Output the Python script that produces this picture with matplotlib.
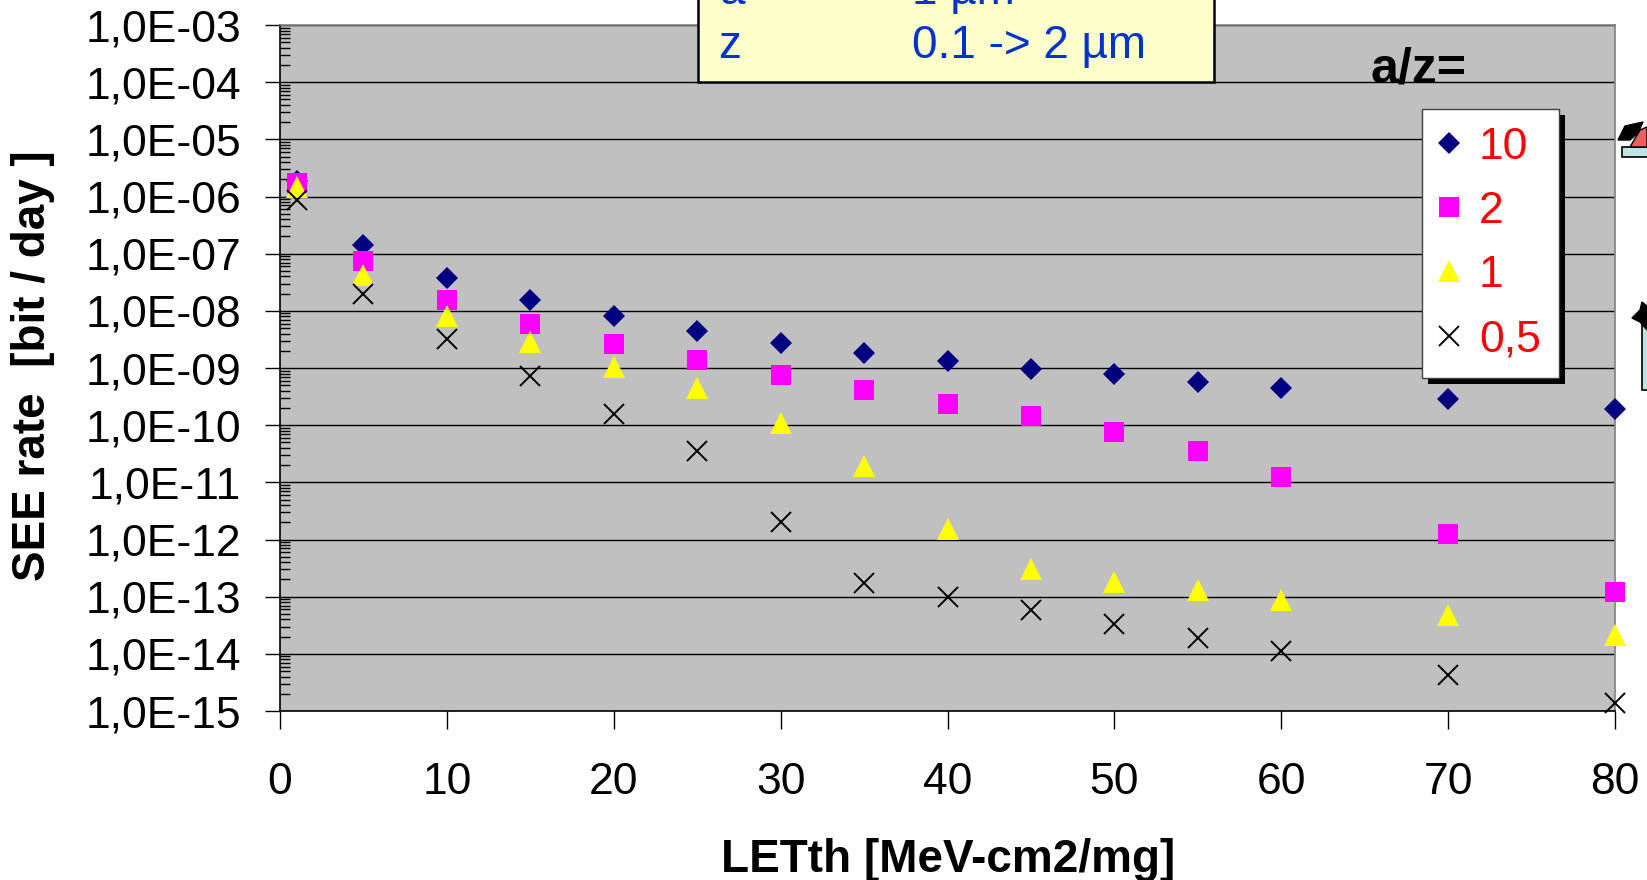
import math
import matplotlib
matplotlib.use("Agg")
import matplotlib.pyplot as plt
from matplotlib.patches import Rectangle, Polygon
from matplotlib.ticker import FixedLocator, FuncFormatter, LogLocator, NullFormatter

plt.rcParams['font.family'] = ['Liberation Sans', 'DejaVu Sans']

# ---------------- data ----------------
let_th = [1, 5, 10, 15, 20, 25, 30, 35, 40, 45, 50, 55, 60, 70, 80]
rate_az10 = [1.9e-6, 1.43e-7, 3.7e-8, 1.52e-8, 8.0e-9, 4.5e-9, 2.7e-9, 1.85e-9,
             1.35e-9, 9.7e-10, 7.9e-10, 5.6e-10, 4.4e-10, 2.9e-10, 1.95e-10]
rate_az2 = [1.7e-6, 7.3e-8, 1.52e-8, 5.8e-9, 2.6e-9, 1.36e-9, 7.6e-10, 4.2e-10,
            2.3e-10, 1.45e-10, 7.7e-11, 3.6e-11, 1.25e-11, 1.27e-12, 1.2e-13]
rate_az1 = [1.45e-6, 4.2e-8, 8.0e-9, 2.8e-9, 1.05e-9, 4.4e-10, 1.1e-10, 1.9e-11,
            1.55e-12, 3.0e-13, 1.8e-13, 1.3e-13, 8.8e-14, 4.7e-14, 2.1e-14]
rate_az05 = [8.8e-7, 1.95e-8, 3.2e-9, 7.2e-10, 1.55e-10, 3.6e-11, 2.0e-12, 1.75e-13,
             1.0e-13, 5.8e-14, 3.3e-14, 1.9e-14, 1.1e-14, 4.2e-15, 1.4e-15]
series_labels = ["10", "2", "1", "0,5"]
x_ticks = [0, 10, 20, 30, 40, 50, 60, 70, 80]
y_exponents = list(range(-15, -2))

W, H = 1647, 880
fig = plt.figure(figsize=(W / 100, H / 100), dpi=100)
fig.patch.set_facecolor('white')

def fx(px):
    return px / W

def fy(py):
    return 1 - py / H

ax = fig.add_axes([fx(280), fy(711), fx(1615) - fx(280), fy(25) - fy(711)])
ax.set_facecolor('#C0C0C0')
ax.set_yscale('log')
ax.set_xlim(0, 80)
ax.set_ylim(1e-15, 1e-3)

ax.yaxis.set_major_locator(FixedLocator([10.0 ** e for e in y_exponents]))
ax.yaxis.set_major_formatter(FuncFormatter(lambda v, p: "1,0E-%02d" % round(-math.log10(v))))
ax.yaxis.set_minor_locator(LogLocator(base=10, subs=range(2, 10), numticks=100))
ax.yaxis.set_minor_formatter(NullFormatter())
ax.xaxis.set_major_locator(FixedLocator(x_ticks))
ax.grid(axis='y', which='major', color='black', linewidth=1.0, zorder=0)
ax.set_axisbelow(True)

ax.tick_params(axis='y', which='major', direction='out', length=11, width=1.0,
               labelsize=32, pad=17)
ax.tick_params(axis='y', which='minor', direction='in', length=7, width=1.0)
ax.tick_params(axis='x', which='major', direction='out', length=13, width=1.0,
               labelsize=32, pad=24)
for s in ['left', 'bottom']:
    ax.spines[s].set_color('black')
    ax.spines[s].set_linewidth(1.2)
for s in ['right', 'top']:
    ax.spines[s].set_color('#808080')
    ax.spines[s].set_linewidth(1.2)

ms = 14.8
h1, = ax.plot(let_th, rate_az10, linestyle='none', marker='D', markersize=11.2,
              color='#000080', markeredgewidth=0, clip_on=False, zorder=5)
h2, = ax.plot(let_th, rate_az2, linestyle='none', marker='s', markersize=ms,
              color='#FF00FF', markeredgewidth=0, clip_on=False, zorder=5)
h3, = ax.plot(let_th, rate_az1, linestyle='none', marker='^', markersize=15.5,
              color='#FFFF00', markeredgewidth=0, clip_on=False, zorder=5)
h4, = ax.plot(let_th, rate_az05, linestyle='none', marker='x', markersize=ms,
              color='black', markeredgewidth=1.4, clip_on=False, zorder=5)

# legend
leg = ax.legend([h1, h2, h3, h4], series_labels, loc='upper left',
                bbox_to_anchor=(fx(1422), fy(109)), bbox_transform=fig.transFigure,
                borderaxespad=0, fontsize=32, numpoints=1, frameon=True,
                fancybox=False, borderpad=0.4, labelspacing=0.52,
                handlelength=0.4, handletextpad=0.48)
leg.get_frame().set_edgecolor('#404040')
leg.get_frame().set_linewidth(1.0)
leg.get_frame().set_facecolor('white')
leg.get_frame().set_alpha(1)
for t in leg.get_texts():
    t.set_color('#FF0000')

fig.canvas.draw()
bb = leg.get_window_extent()
ax.add_artist(Rectangle((bb.x0 + 6, bb.y0 - 6), bb.width, bb.height,
                        transform=None, facecolor='black', edgecolor='none',
                        zorder=4.9, clip_on=False))

# a/z= label
fig.text(fx(1370), fy(70), "a/z=", fontsize=36, fontweight='bold', color='black',
         ha='left', va='center')

# yellow info box (clipped at top of figure)
fig.patches.append(Rectangle((fx(698), fy(82)), fx(1214) - fx(698), 0.2,
                             transform=fig.transFigure, facecolor='#FFFFCC',
                             edgecolor='black', linewidth=1.8, zorder=10))
fig.text(fx(720), fy(4), "a", fontsize=33, color='#0033CC', ha='left', va='baseline', zorder=11)
fig.text(fx(912), fy(4), "1 µm", fontsize=33, color='#0033CC', ha='left', va='baseline', zorder=11)
fig.text(fx(718), fy(46), "z", fontsize=33, color='#0033CC', ha='left', va='center', zorder=11)
fig.text(fx(912), fy(46), "0.1 -> 2 µm", fontsize=33, color='#0033CC', ha='left', va='center', zorder=11)

# clipped clip-art fragments at right edge
fig.patches.append(Rectangle((fx(1622), fy(157)), fx(40), fy(0) - fy(10), transform=fig.transFigure,
                             facecolor='#BFE4E4', edgecolor='black', linewidth=1.2, zorder=10))
fig.patches.append(Polygon([(fx(1630), fy(147)), (fx(1647), fy(147)), (fx(1647), fy(127)), (fx(1640), fy(130))],
                           closed=True, transform=fig.transFigure, facecolor='#E86060',
                           edgecolor='black', linewidth=1.0, zorder=10))
fig.patches.append(Polygon([(fx(1618), fy(140)), (fx(1625), fy(126)), (fx(1643), fy(122)), (fx(1638), fy(133)), (fx(1630), fy(140))],
                           closed=True, transform=fig.transFigure, facecolor='black',
                           edgecolor='black', linewidth=1.0, zorder=10))
fig.patches.append(Rectangle((fx(1642), fy(390)), fx(20), fy(0) - fy(72), transform=fig.transFigure,
                             facecolor='#BFE4E4', edgecolor='black', linewidth=1.2, zorder=10))
fig.patches.append(Polygon([(fx(1632), fy(318)), (fx(1640), fy(310)), (fx(1642), fy(302)), (fx(1647), fy(306)),
                            (fx(1647), fy(330)), (fx(1640), fy(322))],
                           closed=True, transform=fig.transFigure, facecolor='black',
                           edgecolor='black', linewidth=1.0, zorder=10))

# axis titles
fig.text(fx(948), fy(872), "LETth [MeV-cm2/mg]", fontsize=33, fontweight='bold',
         ha='center', va='baseline')
fig.text(fx(33), fy(366), "SEE rate  [bit / day ]", fontsize=33, fontweight='bold',
         ha='center', va='center', rotation=90)

fig.savefig("out.png", dpi=100)
